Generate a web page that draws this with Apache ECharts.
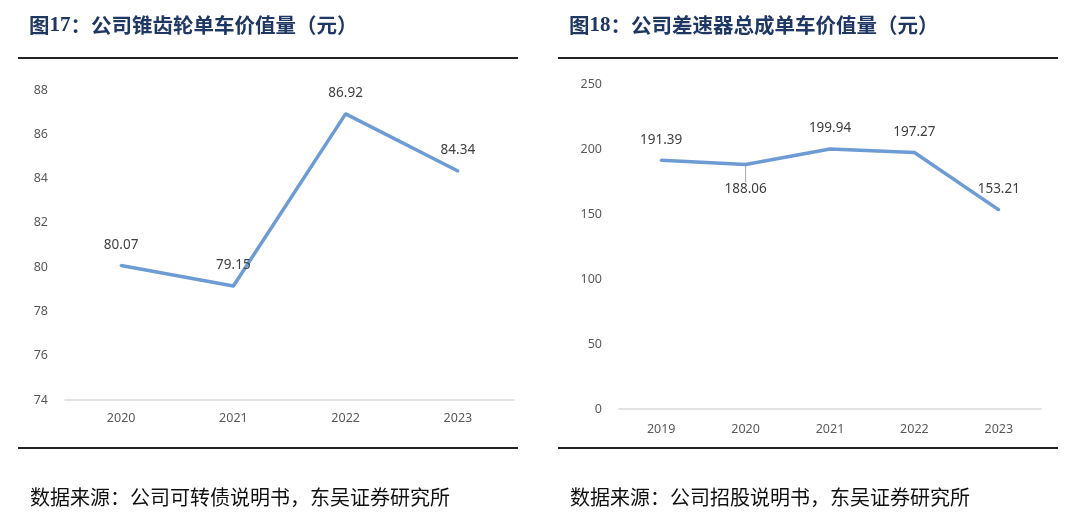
<!DOCTYPE html>
<html><head><meta charset="utf-8">
<script src="https://cdn.jsdelivr.net/npm/echarts@6/dist/echarts.min.js"></script>
<style>html,body{margin:0;padding:0;background:#fff}#c{width:1080px;height:519px}</style>
</head><body><div id="c"></div>
<script>
const leftCategories = ['2020','2021','2022','2023'];
const leftValues = [80.07, 79.15, 86.92, 84.34];
const leftTicks = {min:74, max:88, interval:2};
const rightCategories = ['2019','2020','2021','2022','2023'];
const rightValues = [191.39, 188.06, 199.94, 197.27, 153.21];
const rightTicks = {min:0, max:250, interval:50};
const leftTitle = ['图','17','：公司锥齿轮单车价值量（元）'];
const rightTitle = ['图','18','：公司差速器总成单车价值量（元）'];
const leftSource = '数据来源：公司可转债说明书，东吴证券研究所';
const rightSource = '数据来源：公司招股说明书，东吴证券研究所';

const chart = echarts.init(document.getElementById('c'));
const lineColor = '#6d9bd4';
const cjk = '"Noto Sans CJK SC", sans-serif';
const titleRich = {
  a:{fontFamily:cjk, fontWeight:'bold', fontSize:20.5, color:'#1f3763'},
  n:{fontFamily:'"Liberation Serif", serif', fontWeight:'bold', fontSize:21, color:'#1f3763'}
};
function titleText(t){ return '{a|'+t[0]+'}{n|'+t[1]+'}{a|'+t[2]+'}'; }

function axisY(t, idx){
  return {gridIndex:idx, type:'value', min:t.min, max:t.max, interval:t.interval,
    splitLine:{show:false}, axisLine:{show:false}, axisTick:{show:false},
    axisLabel:{color:'#595959', fontSize:12.5, margin:17, fontFamily:'"Noto Sans", sans-serif'}};
}
function axisX(cats, idx, margin){
  return {gridIndex:idx, type:'category', data:cats, boundaryGap:true,
    axisLine:{show:true, lineStyle:{color:'#d9d9d9', width:1.5}}, axisTick:{show:false},
    axisLabel:{color:'#595959', fontSize:12.5, margin:margin, fontFamily:'"Noto Sans", sans-serif'}};
}
const labelBase = {show:true, position:'top', distance:12, color:'#404040', fontSize:13.5, fontFamily:'"Noto Sans", sans-serif'};

chart.setOption({
  animation:false,
  title:[
    {text:titleText(leftTitle), left:29, top:15, padding:0, textStyle:{rich:titleRich}},
    {text:titleText(rightTitle), left:569, top:15, padding:0, textStyle:{rich:titleRich}},
    {text:leftSource, left:30, top:487, padding:0, textStyle:{fontFamily:cjk, fontWeight:'normal', fontSize:20, color:'#111'}},
    {text:rightSource, left:570, top:487, padding:0, textStyle:{fontFamily:cjk, fontWeight:'normal', fontSize:20, color:'#111'}}
  ],
  grid:[
    {left:65, width:449, top:90, height:310},
    {left:619, width:422, top:84, height:325}
  ],
  xAxis:[axisX(leftCategories,0,12), axisX(rightCategories,1,14)],
  yAxis:[axisY(leftTicks,0), axisY(rightTicks,1)],
  graphic:[
    {type:'line', shape:{x1:18,y1:58,x2:518,y2:58}, style:{stroke:'#222',lineWidth:2}},
    {type:'line', shape:{x1:558,y1:58,x2:1058,y2:58}, style:{stroke:'#222',lineWidth:2}},
    {type:'line', shape:{x1:18,y1:448,x2:518,y2:448}, style:{stroke:'#222',lineWidth:2}},
    {type:'line', shape:{x1:558,y1:448,x2:1058,y2:448}, style:{stroke:'#222',lineWidth:2}}
  ],
  series:[
    {type:'line', xAxisIndex:0, yAxisIndex:0, data:leftValues, symbol:'circle', symbolSize:3,
      itemStyle:{color:lineColor},
      lineStyle:{color:lineColor, width:3.5}, label:labelBase},
    {type:'line', xAxisIndex:1, yAxisIndex:1, symbol:'circle', symbolSize:3,
      itemStyle:{color:lineColor},
      data:rightValues.map((v,i)=> i===1 ? {value:v, label:{position:'bottom', distance:4}, labelLine:{show:true, lineStyle:{color:'#a6a6a6', width:1}}} : v),
      labelLine:{show:false},
      labelLayout:function(p){ return p.dataIndex===1 ? {dy:12} : {}; },
      lineStyle:{color:lineColor, width:3.5}, label:labelBase}
  ]
});
</script></body></html>
